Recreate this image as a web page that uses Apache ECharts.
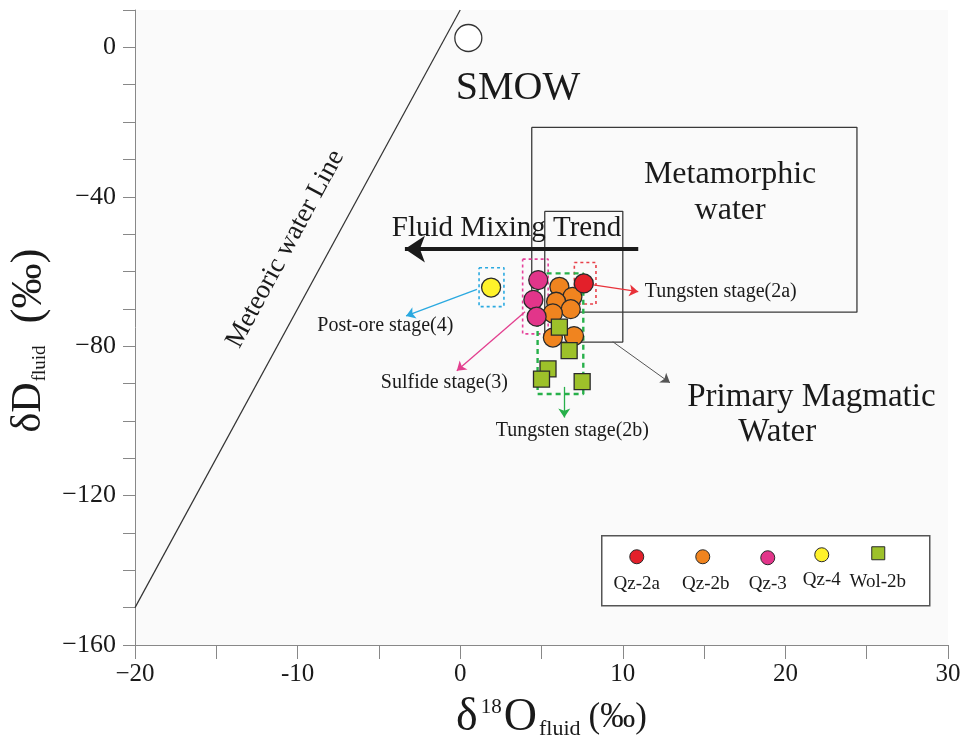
<!DOCTYPE html>
<html><head><meta charset="utf-8">
<script src="https://cdn.jsdelivr.net/npm/echarts@6/dist/echarts.min.js"></script>
<style>html,body{margin:0;padding:0;background:#fff}#c{width:977px;height:747px}</style>
</head><body><div id="c"></div>
<script>
// ---- data (δ18O, δD) ----
const qz2a = [[7.6, -63.2]];
const qz2b = [[6.1, -64.1], [6.9, -66.8], [5.9, -68.1], [6.8, -70.1], [5.7, -71.2], [5.7, -77.7], [7.0, -77.3]];
const qz3 = [[4.8, -62.3], [4.5, -67.6], [4.7, -72.1]];
const qz4 = [[1.9, -64.3]];
const wol2b = [[6.1, -74.9], [6.7, -81.2], [5.4, -86.1], [5.0, -88.8], [7.5, -89.5]];
const smow = [[0.5, 2.5]];
const meteoricLine = [[-20, -150], [0, 10]];
const metamorphicBox = [[4.4, -21.4], [24.4, -70.9]];
const magmaticBox = [[5.2, -43.9], [10.0, -78.9]];
const stage4Box = [[1.16, -59.0], [2.69, -69.4]];
const stage3Box = [[3.84, -56.7], [5.41, -76.7]];
const stage2aBox = [[7.02, -57.6], [8.35, -68.7]];
const stage2bBox = [[4.76, -60.5], [7.57, -92.8]];
const xTickValues = [-20, -10, 0, 10, 20, 30];
const xTickLabels = ['\u221220', '-10', '0', '10', '20', '30'];
const yTickValues = [0, -40, -80, -120, -160];
const yTickLabels = ['0', '\u221240', '\u221280', '\u2212120', '\u2212160'];
const legendNames = ['Qz-2a', 'Qz-2b', 'Qz-3', 'Qz-4', 'Wol-2b'];
// annotation texts with anchor positions in data coords
const annotations = [
  {text: 'SMOW', pos: [3.55, -11.0], size: 40},
  {text: 'Metamorphic\nwater', pos: [16.6, -38.8], size: 32},
  {text: 'Fluid Mixing Trend', pos: [2.85, -48.6], size: 29},
  {text: 'Primary Magmatic', pos: [21.6, -93.6], size: 33},
  {text: 'Water', pos: [19.5, -103.0], size: 33},
  {text: 'Meteoric water Line', pos: [-10.75, -54.0], size: 27, rotate: 61.6},
  {text: 'Tungsten stage(2a)', pos: [11.35, -65.5], size: 20, align: 'left'},
  {text: 'Post-ore stage(4)', pos: [-4.6, -74.6], size: 20},
  {text: 'Sulfide stage(3)', pos: [-0.97, -89.9], size: 20},
  {text: 'Tungsten stage(2b)', pos: [6.9, -102.6], size: 20}
];
const arrows = [
  {from: [10.95, -54.0], to: [-3.4, -54.0], color: '#1a1a1a', width: 4, size: 20},
  {from: [8.18, -63.6], to: [10.95, -65.4], color: '#e8323a', width: 1.3, size: 9},
  {from: [1.03, -64.8], to: [-3.33, -71.9], color: '#2aa9e0', width: 1.3, size: 9},
  {from: [3.99, -70.8], to: [-0.21, -86.6], color: '#e33f8f', width: 1.3, size: 9},
  {from: [6.4, -90.9], to: [6.4, -99.1], color: '#27b04a', width: 1.3, size: 9},
  {from: [9.38, -78.8], to: [12.9, -89.8], color: '#555', width: 1, size: 9}
];

const colors = {qz2a: '#e3202a', qz2b: '#f0841f', qz3: '#e2358a', qz4: '#fff22a', wol: '#9dc12a'};
const FONT = "'Liberation Serif', 'Times New Roman', serif";
const INK = '#1a1a1a';

function rectPath(b) {
  const [[x0, y0], [x1, y1]] = b;
  return [[x0, y0], [x1, y0], [x1, y1], [x0, y1], [x0, y0]];
}
function boxSeries(name, b, color, width, type) {
  return {name, type: 'line', data: rectPath(b), symbol: 'none', silent: true, z: 1,
    lineStyle: {color, width, type}, animation: false};
}
function pointSeries(name, data, color, symbol, size) {
  return {name, type: 'scatter', data, symbol, symbolSize: size, z: 5,
    itemStyle: {color, opacity: 1, borderColor: '#2a2a2a', borderWidth: 1.3}, animation: false};
}

const chart = echarts.init(document.getElementById('c'));
const option = {
  backgroundColor: '#ffffff',
  animation: false,
  grid: {left: 135, right: 29, top: 10, bottom: 102, show: true, backgroundColor: '#fafafa', borderWidth: 0,
    containLabel: false, outerBoundsMode: 'none'},
  xAxis: {
    type: 'value', min: -20, max: 30, interval: 5,
    name: '{d|\u03b4}{sup|18}{d|O}{sub|fluid}{p|(\u2030)}',
    nameLocation: 'middle', nameGap: 50,
    nameTextStyle: {fontFamily: FONT, color: INK, padding: [0, 0, 0, 20], rich: {
      d: {fontSize: 46, fontFamily: FONT, color: INK},
      sup: {fontSize: 21, fontFamily: FONT, color: INK, padding: [0, 2, 22, 3]},
      sub: {fontSize: 22, fontFamily: FONT, color: INK, padding: [22, 8, 0, 2]},
      p: {fontSize: 35, fontFamily: FONT, color: INK}
    }},
    splitLine: {show: false},
    axisLine: {onZero: false, lineStyle: {color: '#888', width: 1}},
    axisTick: {inside: false, length: 14, lineStyle: {color: '#888'}},
    axisLabel: {margin: 17, fontSize: 25, fontFamily: FONT, color: INK,
      formatter: v => { const i = xTickValues.indexOf(v); return i >= 0 ? xTickLabels[i] : ''; }}
  },
  yAxis: {
    type: 'value', min: -160, max: 10, interval: 10,
    name: '{d|\u03b4D}{sub|fluid}{p|(\u2030)}',
    nameLocation: 'middle', nameGap: 76, nameRotate: 90,
    nameTextStyle: {fontFamily: FONT, color: INK, padding: [0, 26, 0, 0], rich: {
      d: {fontSize: 42, fontFamily: FONT, color: INK},
      sub: {fontSize: 19, fontFamily: FONT, color: INK, padding: [22, 22, 0, 1]},
      p: {fontSize: 45, fontFamily: FONT, color: INK}
    }},
    splitLine: {show: false},
    axisLine: {onZero: false, lineStyle: {color: '#888', width: 1}},
    axisTick: {inside: false, length: 12, lineStyle: {color: '#888'}},
    axisLabel: {margin: 19, fontSize: 26, fontFamily: FONT, color: INK,
      formatter: v => { const i = yTickValues.indexOf(v); return i >= 0 ? yTickLabels[i] : ''; }}
  },
  series: [
    {name: 'Meteoric water line', type: 'line', data: meteoricLine, symbol: 'none', silent: true, z: 1,
      lineStyle: {color: '#333', width: 1.2},
      markLine: {silent: true, animation: false, label: {show: false},
        data: arrows.map(a => [
          {coord: a.from, symbol: 'none', lineStyle: {color: a.color, width: a.width, type: 'solid'}},
          {coord: a.to, symbol: 'arrow', symbolSize: a.size}
        ])}},
    boxSeries('Metamorphic water', metamorphicBox, '#3a3a3a', 1.3, 'solid'),
    boxSeries('Primary magmatic water', magmaticBox, '#3a3a3a', 1.3, 'solid'),
    boxSeries('Stage 4', stage4Box, '#2aa9e0', 1.6, [3, 3]),
    boxSeries('Stage 3', stage3Box, '#e5409a', 1.6, [3, 3]),
    boxSeries('Stage 2a', stage2aBox, '#e8404a', 1.6, [3, 3]),
    boxSeries('Stage 2b', stage2bBox, '#27b04a', 2.4, [5, 4]),
    {name: 'SMOW', type: 'scatter', data: smow, symbol: 'circle', symbolSize: 27, z: 3,
      itemStyle: {color: '#ffffff', opacity: 1, borderColor: '#333', borderWidth: 1.3}},
    {name: 'annotations', type: 'scatter', symbolSize: 0, silent: true, z: 4,
      itemStyle: {opacity: 1},
      data: annotations.map(a => ({value: a.pos, label: {
        show: true, position: 'inside', formatter: a.text, fontSize: a.size, fontFamily: FONT,
        color: INK, rotate: a.rotate || 0, align: a.align || 'center', verticalAlign: 'middle',
        lineHeight: Math.round(a.size * 1.12)
      }}))},
    pointSeries('Qz-2b', qz2b, colors.qz2b, 'circle', 19),
    pointSeries('Qz-2a', qz2a, colors.qz2a, 'circle', 19),
    pointSeries('Qz-3', qz3, colors.qz3, 'circle', 19),
    pointSeries('Qz-4', qz4, colors.qz4, 'circle', 19),
    pointSeries('Wol-2b', wol2b, colors.wol, 'rect', 16)
  ],
  graphic: [{
    type: 'group', left: 601, top: 535, children: [
      {type: 'rect', shape: {x: 0, y: 0, width: 328, height: 70}, style: {fill: '#fff', stroke: '#555', lineWidth: 1.5}},
      {type: 'circle', shape: {cx: 35, cy: 21, r: 7}, style: {fill: colors.qz2a, stroke: '#2a2a2a', lineWidth: 1}},
      {type: 'circle', shape: {cx: 101, cy: 21, r: 7}, style: {fill: colors.qz2b, stroke: '#2a2a2a', lineWidth: 1}},
      {type: 'circle', shape: {cx: 166, cy: 22, r: 7}, style: {fill: colors.qz3, stroke: '#2a2a2a', lineWidth: 1}},
      {type: 'circle', shape: {cx: 220, cy: 19, r: 7}, style: {fill: colors.qz4, stroke: '#2a2a2a', lineWidth: 1}},
      {type: 'rect', shape: {x: 270, y: 11, width: 13, height: 13}, style: {fill: colors.wol, stroke: '#2a2a2a', lineWidth: 1}},
      {type: 'text', x: 35, y: 48, style: {text: legendNames[0], font: '19px ' + FONT, fill: INK, textAlign: 'center', textVerticalAlign: 'middle'}},
      {type: 'text', x: 104, y: 48, style: {text: legendNames[1], font: '19px ' + FONT, fill: INK, textAlign: 'center', textVerticalAlign: 'middle'}},
      {type: 'text', x: 166, y: 48, style: {text: legendNames[2], font: '19px ' + FONT, fill: INK, textAlign: 'center', textVerticalAlign: 'middle'}},
      {type: 'text', x: 220, y: 44, style: {text: legendNames[3], font: '19px ' + FONT, fill: INK, textAlign: 'center', textVerticalAlign: 'middle'}},
      {type: 'text', x: 276, y: 46, style: {text: legendNames[4], font: '19px ' + FONT, fill: INK, textAlign: 'center', textVerticalAlign: 'middle'}}
    ]
  }]
};
chart.setOption(option);
</script></body></html>
